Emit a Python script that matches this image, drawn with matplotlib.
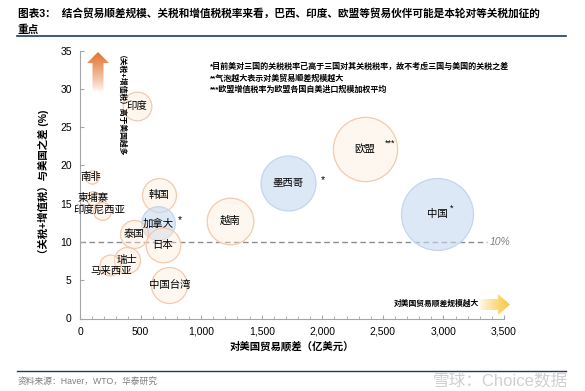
import numpy as np
import matplotlib
matplotlib.use("Agg")
import matplotlib.pyplot as plt
from matplotlib.patches import Polygon
from matplotlib.ticker import MultipleLocator, FuncFormatter

plt.rcParams['font.family'] = ['Liberation Sans', 'Noto Sans CJK SC']

# data
countries = ['印度', '南非', '柬埔寨', '印度尼西亚', '韩国', '加拿大', '泰国', '日本',
             '瑞士', '马来西亚', '中国台湾', '越南', '墨西哥', '欧盟', '中国']
trade_surplus = [468, 99, 107, 180, 654, 645, 445, 682, 385, 248, 737, 1238, 1719, 2351, 2951]
tax_gap = [27.8, 18.5, 15.75, 14.1, 16.1, 12.45, 11.1, 9.6, 7.65, 7.0, 4.4, 12.8, 17.7, 22.2, 13.66]
blue_group = ['加拿大', '墨西哥', '中国']
threshold = 10

W, H = 585, 391
fig = plt.figure(figsize=(W / 100, H / 100), dpi=100)


def fx(px):
    return px / W


def fy(py):
    return 1 - py / H


ax = fig.add_axes([fx(80), fy(318.5), fx(504) - fx(80), fy(50.7) - fy(318.5)])

# bubbles: area proportional to trade surplus
for name, xv, yv in zip(countries, trade_surplus, tax_gap):
    if name in blue_group:
        fc, ec = (0.78, 0.85, 0.94, 0.6), '#C3D6EC'
    else:
        fc, ec = (0.99, 0.92, 0.86, 0.4), '#F6C9AA'
    ax.scatter(xv, yv, s=0.91 * xv, facecolor=fc, edgecolor=ec, linewidth=0.9, zorder=2)

ax.axhline(threshold, xmin=0, xmax=3358 / 3500, color='#8C8C8C', linestyle=(0, (4, 2.5)),
           linewidth=1.0, zorder=1)
ax.text(3380, threshold, '10%', color='#7F7F7F', fontsize=7.5, style='italic',
        va='center', ha='left', clip_on=False)

# labels
label_offsets = {'马来西亚': (1, -4), '印度尼西亚': (-2, 0), '南非': (-1, 0)}
for name, xv, yv in zip(countries, trade_surplus, tax_gap):
    dx, dy = label_offsets.get(name, (0, 0))
    ax.annotate(name, (xv, yv), xytext=(dx, dy), textcoords='offset points',
                ha='center', va='center', fontsize=7.5, zorder=4)

ax.annotate('*', (645, 12.45), xytext=(16, 2), textcoords='offset points',
            ha='center', va='center', fontsize=7.5)
ax.annotate('*', (1719, 17.7), xytext=(25, 2), textcoords='offset points',
            ha='center', va='center', fontsize=7.5)
ax.annotate('***', (2351, 22.2), xytext=(18, 4), textcoords='offset points',
            ha='center', va='center', fontsize=6.5)
ax.annotate('*', (2951, 13.66), xytext=(10, 4), textcoords='offset points',
            ha='center', va='center', fontsize=6.5)

ax.set_xlim(0, 3500)
ax.set_ylim(0, 35)
ax.xaxis.set_major_locator(MultipleLocator(500))
ax.xaxis.set_minor_locator(MultipleLocator(100))
ax.yaxis.set_major_locator(MultipleLocator(5))
ax.xaxis.set_major_formatter(FuncFormatter(lambda v, p: f'{int(v):,}'))
ax.tick_params(axis='both', which='both', direction='in', colors='#A6A6A6',
               labelcolor='black', labelsize=7.5)
ax.tick_params(axis='x', which='major', length=3, pad=6)
ax.tick_params(axis='x', which='minor', length=2)
ax.tick_params(axis='y', which='major', length=3, pad=6)
for s in ['top', 'right']:
    ax.spines[s].set_visible(False)
for s in ['left', 'bottom']:
    ax.spines[s].set_color('#A6A6A6')

ax.set_xlabel('对美国贸易顺差（亿美元）', fontsize=7.5, fontweight='bold', labelpad=3)
ax.set_ylabel('（关税+增值税）与美国之差 (%)', fontsize=7.5, fontweight='bold', labelpad=8)

# notes
notes = ['*目前美对三国的关税税率已高于三国对其关税税率，故不考虑三国与美国的关税之差',
         '**气泡越大表示对美贸易顺差规模越大',
         '***欧盟增值税率为欧盟各国自美进口规模加权平均']
for i, t in enumerate(notes):
    fig.text(fx(210), fy(67 + i * 11.5), t, fontsize=5.8, fontweight='bold', va='center')

fig.text(fx(117), fy(108), '（关税+增值税）高于美国越多', rotation=-90, fontsize=5.6,
         fontweight='bold', ha='center', va='center')
fig.text(fx(436), fy(304), '对美国贸易顺差规模越大', fontsize=5.6, fontweight='bold',
         ha='center', va='center')


# gradient arrows
def gradient_arrow(pts, rgb, vertical):
    xs = [p[0] for p in pts]
    ys = [p[1] for p in pts]
    x0, x1, y0, y1 = min(xs), max(xs), min(ys), max(ys)
    a = fig.add_axes([fx(x0), fy(y1), fx(x1) - fx(x0), fy(y0) - fy(y1)])
    a.set_xlim(x0, x1)
    a.set_ylim(y1, y0)
    a.axis('off')
    n = 100
    img = np.zeros((n, n, 4))
    img[..., :3] = rgb
    ramp = np.linspace(0, 1, n) ** 0.8
    if vertical:
        img[..., 3] = ramp[::-1][:, None]
    else:
        img[..., 3] = ramp[None, :]
    im = a.imshow(img, extent=[x0, x1, y1, y0], aspect='auto', interpolation='bilinear')
    poly = Polygon(pts, closed=True, transform=a.transData, facecolor='none', edgecolor='none')
    a.add_patch(poly)
    im.set_clip_path(poly)


gradient_arrow([(98, 52), (109, 63), (103.5, 63), (103.5, 92), (92.5, 92), (92.5, 63), (87, 63)],
               (0.89, 0.45, 0.18), True)
gradient_arrow([(478, 299), (498, 299), (498, 294), (510, 304.5), (498, 315), (498, 310), (478, 310)],
               (0.98, 0.78, 0.25), False)

# title, rules, footer
fig.text(fx(18), fy(13), '图表3：  结合贸易顺差规模、关税和增值税税率来看，巴西、印度、欧盟等贸易伙伴可能是本轮对等关税加征的',
         fontsize=7.7, fontweight='bold', va='center')
fig.text(fx(18), fy(29.5), '重点', fontsize=7.7, fontweight='bold', va='center')
fig.add_artist(plt.Line2D([fx(17), fx(566)], [fy(36), fy(36)], color='#1F3B63', linewidth=1.2))
fig.add_artist(plt.Line2D([fx(17), fx(566)], [fy(371), fy(371)], color='#1F3B63', linewidth=1.0))
fig.text(fx(18), fy(381), '资料来源：Haver，WTO，华泰研究', fontsize=6.3, color='#7F7F7F', va='center')
fig.text(fx(568), fy(380), '雪球：Choice数据', fontsize=12, color='#D0D0D0', ha='right', va='center')

fig.savefig('out.png', dpi=100)
